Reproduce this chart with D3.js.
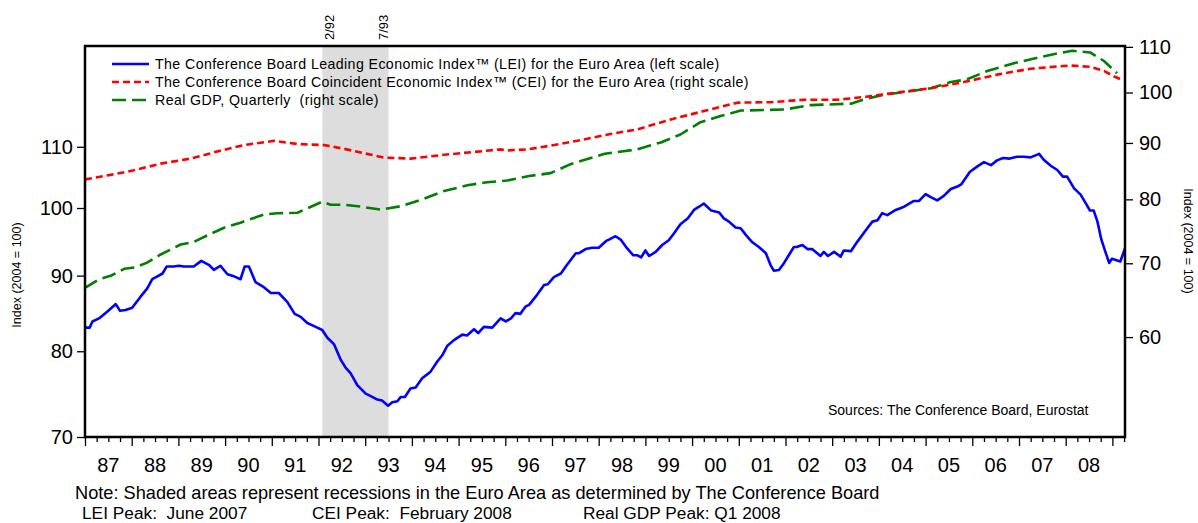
<!DOCTYPE html>
<html>
<head>
<meta charset="utf-8">
<script src="https://cdn.jsdelivr.net/npm/d3@7"></script>
<style>
body { margin: 0; background: #fff; }
svg { display: block; font-family: "Liberation Sans", Arial, sans-serif; }
</style>
</head>
<body>
<div id="chart"></div>
<script>
// LEI, monthly (left scale)
var lei_dates = [
	1987.0, 1987.1, 1987.16, 1987.3, 1987.48, 1987.66, 1987.75, 1987.87,
	1988.01, 1988.19, 1988.33, 1988.44, 1988.55, 1988.66, 1988.75, 1988.9,
	1989.01, 1989.12, 1989.33, 1989.49, 1989.66, 1989.76, 1989.9,
	1990.05, 1990.19, 1990.33, 1990.42, 1990.51, 1990.65, 1990.83, 1990.98,
	1991.15, 1991.33, 1991.49, 1991.62, 1991.76, 1991.94,
	1992.08, 1992.19, 1992.33, 1992.48, 1992.58, 1992.69, 1992.83,
	1993.01, 1993.12, 1993.26, 1993.36, 1993.49, 1993.58, 1993.69, 1993.76, 1993.85, 1993.97,
	1994.08, 1994.22, 1994.4, 1994.54, 1994.65, 1994.76, 1994.9,
	1995.08, 1995.18, 1995.33, 1995.42, 1995.54, 1995.72, 1995.9,
	1996.01, 1996.12, 1996.22, 1996.32, 1996.44, 1996.51, 1996.65, 1996.83, 1996.91,
	1997.04, 1997.19, 1997.33, 1997.51, 1997.58, 1997.72, 1997.86,
	1998.0, 1998.16, 1998.22, 1998.36, 1998.47, 1998.61, 1998.74, 1998.83, 1998.91,
	1999.0, 1999.08, 1999.22, 1999.36, 1999.5, 1999.61, 1999.75, 1999.91,
	2000.04, 2000.15, 2000.25, 2000.41, 2000.58, 2000.68, 2000.79, 2000.93,
	2001.04, 2001.15, 2001.29, 2001.43, 2001.58, 2001.68, 2001.75, 2001.86, 2001.97,
	2002.07, 2002.18, 2002.24, 2002.36, 2002.47, 2002.57, 2002.75, 2002.82, 2002.91,
	2003.04, 2003.18, 2003.25, 2003.4, 2003.54, 2003.72, 2003.86, 2003.97,
	2004.07, 2004.18, 2004.36, 2004.54, 2004.75, 2004.86,
	2005.0, 2005.11, 2005.25, 2005.39, 2005.54, 2005.68, 2005.77, 2005.95,
	2006.11, 2006.25, 2006.4, 2006.53, 2006.66, 2006.8, 2006.96,
	2007.1, 2007.25, 2007.43, 2007.53, 2007.68, 2007.82, 2007.94,
	2008.03, 2008.18, 2008.32, 2008.45, 2008.52, 2008.6, 2008.68, 2008.76, 2008.85, 2008.93, 2008.99,
	2009.17, 2009.27
];
var lei_values = [
	83.0, 83.0, 83.8, 84.2, 85.1, 86.1, 85.2, 85.3,
	85.6, 87.1, 88.2, 89.5, 89.9, 90.3, 91.3, 91.3,
	91.4, 91.3, 91.3, 92.1, 91.5, 90.8, 91.4,
	90.2, 89.9, 89.5, 91.3, 91.3, 89.1, 88.4, 87.6,
	87.6, 86.4, 84.8, 84.4, 83.6, 83.1,
	82.7, 81.7, 80.9, 78.9, 78.0, 77.3, 75.9,
	74.9, 74.6, 74.2, 74.1, 73.5, 73.9, 74.0, 74.5, 74.5, 75.5,
	75.6, 76.7, 77.5, 78.7, 79.5, 80.7, 81.4,
	82.1, 82.0, 82.8, 82.3, 83.1, 83.0, 84.2,
	83.8, 84.2, 84.9, 84.8, 85.8, 86.0, 87.1, 88.7, 88.8,
	89.8, 90.3, 91.6, 93.2, 93.2, 93.8, 94.0,
	94.0, 95.0, 95.2, 95.7, 95.2, 93.9, 92.9, 92.9, 92.6,
	93.6, 92.8, 93.4, 94.4, 95.1, 96.1, 97.5, 98.4,
	99.7, 100.2, 100.7, 99.6, 99.3, 98.4, 97.9, 97.0,
	96.9, 95.9, 94.8, 94.1, 93.2, 91.5, 90.7, 90.8, 91.8,
	92.9, 94.1, 94.1, 94.4, 93.8, 93.8, 92.8, 93.4, 92.8,
	93.4, 92.7, 93.6, 93.5, 94.9, 96.6, 97.9, 98.1,
	99.2, 98.9, 99.7, 100.2, 101.1, 101.1,
	102.2, 101.7, 101.2, 101.9, 103.0, 103.4, 103.8, 105.8,
	106.7, 107.4, 106.9, 107.7, 108.1, 108.0, 108.3,
	108.3, 108.2, 108.8, 107.8, 106.8, 106.1, 105.0,
	105.0, 103.1, 102.1, 100.5, 99.6, 99.6, 97.9, 95.3, 93.4, 91.8, 92.4,
	92.0, 93.9
];

// CEI (right scale)
var cei_dates = [
	1987.0, 1987.55, 1988.05, 1988.62, 1989.26, 1989.83, 1990.4, 1991.05, 1991.55, 1992.12,
	1992.55, 1992.97, 1993.4, 1993.97, 1994.69, 1995.54, 1995.9, 1996.04, 1996.47, 1996.97,
	1997.54, 1998.13, 1998.83, 1999.54, 2000.25, 2000.97, 2001.68, 2002.4, 2003.11, 2003.72,
	2004.39, 2005.11, 2005.82, 2006.53, 2007.25, 2007.96, 2008.1, 2008.53, 2008.82, 2009.04,
	2009.22
];
var cei_values = [
	83.4, 84.2, 85.0, 86.2, 87.1, 88.4, 89.6, 90.4, 89.8, 89.6,
	88.9, 88.1, 87.3, 87.1, 87.8, 88.5, 88.8, 88.6, 88.8, 89.5,
	90.4, 91.5, 92.6, 94.5, 96.2, 97.9, 98.0, 98.5, 98.5, 99.1,
	100.0, 100.9, 102.2, 103.8, 105.1, 105.7, 105.8, 105.5, 104.6, 103.4,
	102.6
];

// Real GDP, quarterly (right scale)
var gdp_dates = [
	1987.0, 1987.3, 1987.55, 1987.84, 1988.08, 1988.33, 1988.62, 1989.05, 1989.33, 1989.62,
	1989.98, 1990.33, 1990.83, 1991.12, 1991.55, 1992.08, 1992.26, 1992.55, 1992.9, 1993.33,
	1993.79, 1994.26, 1994.69, 1995.19, 1995.61, 1996.04, 1996.51, 1996.97, 1997.4, 1997.83,
	1998.13, 1998.83, 1999.33, 1999.75, 2000.18, 2000.61, 2001.04, 2001.97, 2002.54, 2003.4,
	2003.7, 2004.04, 2004.54, 2005.11, 2005.54, 2005.89, 2006.32, 2006.89, 2007.46, 2007.82,
	2008.14, 2008.53, 2008.82, 2009.1
];
var gdp_values = [
	66.5, 67.7, 68.2, 69.2, 69.4, 70.1, 71.3, 72.8, 73.2, 74.2,
	75.4, 76.2, 77.5, 77.7, 77.8, 79.6, 79.1, 79.1, 78.8, 78.3,
	78.9, 80.1, 81.4, 82.4, 82.9, 83.2, 84.0, 84.5, 86.1, 87.2,
	88.0, 88.8, 90.1, 91.6, 94.0, 95.2, 96.3, 96.5, 97.4, 97.7,
	98.6, 99.4, 100.1, 100.9, 102.2, 102.8, 104.6, 106.3, 107.7, 108.5,
	109.1, 108.7, 106.8, 104.1
];

var recession_start = 1992.083, recession_end = 1993.5;
var recession_labels = ['2/92', '7/93'];

var years = d3.range(1987, 2009);
var left_ticks = [70, 80, 90, 100, 110];
var right_ticks = [60, 70, 80, 90, 100, 110];

var legend_labels = [
	'The Conference Board Leading Economic Index\u2122 (LEI) for the Euro Area (left scale)',
	'The Conference Board Coincident Economic Index\u2122 (CEI) for the Euro Area (right scale)',
	'Real GDP, Quarterly  (right scale)'
];

var width = 1198, height = 523;
var plot = { left: 85, right: 1125, top: 46, bottom: 437 };

var svg = d3.select('#chart')
	.append('svg')
	.attr('width', width)
	.attr('height', height);

var x = d3.scaleLinear().domain([1987, 2009.27]).range([plot.left, plot.right]);
var y_left = d3.scaleLog().domain([70, 128.7]).range([plot.bottom, plot.top]);
var y_right = d3.scaleLog().domain([48.7, 110.2]).range([plot.bottom, plot.top]);

svg.append('clipPath').attr('id', 'clip')
	.append('rect')
	.attr('x', plot.left).attr('y', plot.top)
	.attr('width', plot.right - plot.left)
	.attr('height', plot.bottom - plot.top);

// recession band
svg.append('rect')
	.attr('x', x(recession_start))
	.attr('y', plot.top)
	.attr('width', x(recession_end) - x(recession_start))
	.attr('height', plot.bottom - plot.top)
	.style('fill', '#dddddd');

svg.append('text')
	.attr('transform', 'translate(' + (x(recession_start) + 12) + ',40) rotate(-90)')
	.style('font-size', '13px')
	.text(recession_labels[0]);
svg.append('text')
	.attr('transform', 'translate(' + (x(recession_end) - 1) + ',40) rotate(-90)')
	.style('font-size', '13px')
	.text(recession_labels[1]);

// series
var series = [
	{ dates: gdp_dates, values: gdp_values, y: y_right, color: '#008000', dash: '14,6' },
	{ dates: cei_dates, values: cei_values, y: y_right, color: '#ff0000', dash: '7,4' },
	{ dates: lei_dates, values: lei_values, y: y_left, color: '#0000ff', dash: null }
];

series.forEach(function(s) {
	var line = d3.line()
		.x(function(d, i) { return x(s.dates[i]); })
		.y(function(d) { return s.y(d); });
	svg.append('path')
		.attr('clip-path', 'url(#clip)')
		.attr('d', line(s.values))
		.style('fill', 'none')
		.style('stroke', s.color)
		.style('stroke-width', 2.6)
		.style('stroke-linejoin', 'round')
		.style('stroke-dasharray', s.dash);
});

// axes
var axis_left = svg.append('g')
	.attr('transform', 'translate(' + plot.left + ',0)')
	.call(d3.axisLeft(y_left).tickValues(left_ticks).tickFormat(d3.format('d')).tickSize(8).tickPadding(4));
var axis_right = svg.append('g')
	.attr('transform', 'translate(' + plot.right + ',0)')
	.call(d3.axisRight(y_right).tickValues(right_ticks).tickFormat(d3.format('d')).tickSize(8).tickPadding(6));

[axis_left, axis_right].forEach(function(a) {
	a.select('.domain').remove();
	a.selectAll('text').style('font-size', '20px').style('font-family', '"Liberation Sans", Arial, sans-serif').style('fill', '#000');
	a.selectAll('line').style('stroke', '#000');
});

var quarters = [];
years.concat([2009]).forEach(function(yr) {
	[0.25, 0.5, 0.75].forEach(function(q) {
		if (yr + q <= 2009.27) quarters.push(yr + q);
	});
});

svg.append('g')
	.attr('transform', 'translate(0,' + plot.bottom + ')')
	.call(d3.axisBottom(x).tickValues(quarters).tickFormat('').tickSize(5))
	.call(function(g) { g.select('.domain').remove(); });

svg.append('g')
	.attr('transform', 'translate(0,' + plot.bottom + ')')
	.call(d3.axisBottom(x).tickValues(years.concat([2009])).tickFormat('').tickSize(9))
	.call(function(g) { g.select('.domain').remove(); });

svg.selectAll('.tick line').style('stroke', '#000').style('stroke-width', 1.3);

svg.append('g').selectAll('text')
	.data(years)
	.enter().append('text')
	.attr('x', function(d) { return x(d + 0.5); })
	.attr('y', 472)
	.attr('text-anchor', 'middle')
	.style('font-size', '20px')
	.text(function(d) { return d3.format('02d')(d % 100); });

// frame
svg.append('rect')
	.attr('x', plot.left).attr('y', plot.top)
	.attr('width', plot.right - plot.left)
	.attr('height', plot.bottom - plot.top)
	.style('fill', 'none')
	.style('stroke', '#000')
	.style('stroke-width', 2.5);

// axis titles
svg.append('text')
	.attr('transform', 'translate(21,275) rotate(-90)')
	.attr('text-anchor', 'middle')
	.style('font-size', '12.5px')
	.text('Index (2004 = 100)');
svg.append('text')
	.attr('transform', 'translate(1184,241) rotate(90)')
	.attr('text-anchor', 'middle')
	.style('font-size', '12.5px')
	.text('Index (2004 = 100)');

// legend
var legend = svg.append('g');
series.slice().reverse().forEach(function(s, i) {
	var ly = 64 + i * 18;
	legend.append('line')
		.attr('x1', 112).attr('x2', 149)
		.attr('y1', ly).attr('y2', ly)
		.style('stroke', s.color)
		.style('stroke-width', 2.6)
		.style('stroke-dasharray', s.dash);
	legend.append('text')
		.attr('x', 155).attr('y', ly + 4.5)
		.style('font-size', '14.2px')
		.style('letter-spacing', '0.4px')
		.style('white-space', 'pre')
		.text(legend_labels[i]);
});

svg.append('text')
	.attr('x', 828).attr('y', 415)
	.style('font-size', '14px')
	.text('Sources: The Conference Board, Eurostat');

// notes
svg.append('text')
	.attr('x', 75).attr('y', 499)
	.style('font-size', '18.2px')
	.text('Note: Shaded areas represent recessions in the Euro Area as determined by The Conference Board');
svg.append('text')
	.attr('x', 82).attr('y', 519)
	.style('font-size', '17.3px')
	.style('white-space', 'pre')
	.text('LEI Peak:  June 2007');
svg.append('text')
	.attr('x', 312).attr('y', 519)
	.style('font-size', '17.3px')
	.style('white-space', 'pre')
	.text('CEI Peak:  February 2008');
svg.append('text')
	.attr('x', 583).attr('y', 519)
	.style('font-size', '17.3px')
	.text('Real GDP Peak: Q1 2008');
</script>
</body>
</html>
